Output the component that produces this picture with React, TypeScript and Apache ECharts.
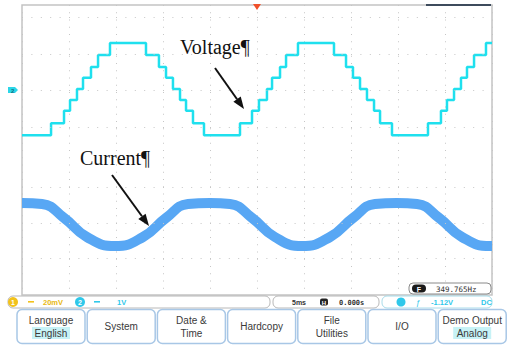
import React, { useEffect, useRef } from "react";
import * as echarts from "echarts";

// time in ms (5 ms/div), levels in screen divisions (0 = centre row)
const voltageTimes = [0, 3.09, 4.47, 5.11, 5.85, 6.49, 7.34, 8.09, 9.36, 13.19, 14.57, 15.32, 16.06, 16.81, 17.45, 18.19, 19.36, 23.19, 24.47, 25.21, 26.06, 26.6, 27.45, 28.09, 29.36, 33.19, 34.47, 35.21, 35.96, 36.7, 37.45, 38.09, 39.36, 43.19, 44.57, 45.21, 45.96, 46.7, 47.34, 48.09, 49.36, 50];
const voltageLevels = [0.41, 0.74, 1.08, 1.38, 1.68, 1.99, 2.29, 2.62, 2.95, 2.62, 2.29, 1.99, 1.68, 1.38, 1.08, 0.74, 0.41, 0.74, 1.08, 1.38, 1.68, 1.99, 2.29, 2.62, 2.95, 2.62, 2.29, 1.99, 1.68, 1.38, 1.08, 0.74, 0.41, 0.74, 1.08, 1.38, 1.68, 1.99, 2.29, 2.62, 2.95, 2.95];

const currentTimes = [0, 2.13, 4.5, 6.9, 9.89, 12.87, 15.3, 17.66, 20.0, 22.13, 24.5, 26.9, 29.79, 32.77, 35.2, 37.55, 39.89, 42.02, 44.4, 46.8, 49.79, 50];
const currentLevels = [-1.46, -1.49, -1.88, -2.4, -2.65, -2.4, -1.88, -1.49, -1.46, -1.49, -1.88, -2.4, -2.65, -2.4, -1.88, -1.49, -1.46, -1.49, -1.88, -2.4, -2.65, -2.65];

// graticule rows (division values) as they appear in the screenshot
const graticuleRows = [3.66, 2.65, 1.66, 0.63, -1.02, -2.01, -2.98];

const channelLabels = ["20mV", "1V"];
const timebaseLabels = ["5ms", "0.000s"];
const triggerLabels = ["-1.12V", "DC"];
const frequencyLabel = "349.765Hz";
const annotationLabels = ["Voltage¶", "Current¶"];
const menuButtons: string[][] = [
  ["Language", "English"],
  ["System"],
  ["Date &", "Time"],
  ["Hardcopy"],
  ["File", "Utilities"],
  ["I/O"],
  ["Demo Output", "Analog"],
];

const SANS = "'Liberation Sans', Arial, sans-serif";
const SERIF = "'Liberation Serif', 'Times New Roman', serif";

function txt(text: string, x: number, y: number, size: number, fill: string, extra: any = {}) {
  return {
    type: "text",
    x,
    y,
    z: 20,
    style: {
      text,
      fill,
      font: `${extra.weight || "normal"} ${size}px ${extra.family || SANS}`,
      align: extra.align || "left",
      verticalAlign: "middle",
      textAlign: extra.align || "left",
      textVerticalAlign: "middle",
    },
    scaleX: extra.scaleX || 1,
  };
}

function arrow(x1: number, y1: number, x2: number, y2: number) {
  const dx = x2 - x1;
  const dy = y2 - y1;
  const len = Math.sqrt(dx * dx + dy * dy);
  const ux = dx / len;
  const uy = dy / len;
  const head = 12;
  const half = 4.5;
  const bx = x2 - ux * head;
  const by = y2 - uy * head;
  return [
    { type: "line", z: 10, shape: { x1, y1, x2: bx, y2: by }, style: { stroke: "#111", lineWidth: 2 } },
    {
      type: "polygon",
      z: 10,
      shape: { points: [[x2, y2], [bx - uy * half, by + ux * half], [bx + uy * half, by - ux * half]] },
      style: { fill: "#111" },
    },
  ];
}

function buildGraphics() {
  const g: any[] = [];
  // top-right memory bar and trigger marker
  g.push({ type: "line", z: 10, shape: { x1: 426, y1: 5, x2: 491, y2: 5 }, style: { stroke: "#3d4b5c", lineWidth: 2 } });
  g.push({ type: "polygon", z: 10, shape: { points: [[253, 4], [261, 4], [257, 10]] }, style: { fill: "#f0502a" } });
  // channel 2 ground marker
  g.push({ type: "polygon", z: 10, shape: { points: [[8, 87], [15, 87], [18, 90], [15, 93], [8, 93]] }, style: { fill: "#2cd6e8" } });
  g.push(txt("2", 11, 90.5, 6, "#0d6f80", { weight: "bold" }));

  // annotations
  g.push(txt(annotationLabels[0], 180, 47, 20, "#111", { family: SERIF }));
  g.push(...arrow(215, 68, 244, 109));
  g.push(txt(annotationLabels[1], 80, 158, 20, "#111", { family: SERIF }));
  g.push(...arrow(112, 175, 149, 226));

  // frequency box
  g.push({ type: "rect", z: 10, shape: { x: 409, y: 283, width: 82, height: 11, r: 4 }, style: { fill: "#fff", stroke: "#8a8a8a", lineWidth: 1 } });
  g.push({ type: "rect", z: 11, shape: { x: 412, y: 284.5, width: 14, height: 8, r: 4 }, style: { fill: "#1a1a1a" } });
  g.push(txt("F", 419, 289, 7, "#fff", { align: "center", weight: "bold" }));
  g.push(txt(frequencyLabel, 436, 289, 7.5, "#333", { family: "'DejaVu Sans Mono', monospace" }));

  // status bar
  g.push({ type: "rect", z: 10, shape: { x: 8, y: 296, width: 262, height: 12, r: 5 }, style: { fill: "#fff", stroke: "#b8b8b8", lineWidth: 1 } });
  g.push({ type: "rect", z: 10, shape: { x: 273, y: 296, width: 106, height: 12, r: 5 }, style: { fill: "#fff", stroke: "#b8b8b8", lineWidth: 1 } });
  g.push({ type: "rect", z: 10, shape: { x: 382, y: 296, width: 110, height: 12, r: 5 }, style: { fill: "#fff", stroke: "#a8dcea", lineWidth: 1 } });
  g.push({ type: "circle", z: 11, shape: { cx: 13, cy: 302, r: 5 }, style: { fill: "#f2c21b" } });
  g.push(txt("1", 13, 302.5, 7, "#fff", { align: "center", weight: "bold" }));
  g.push({ type: "rect", z: 11, shape: { x: 28, y: 301, width: 6, height: 1.6 }, style: { fill: "#f2c21b" } });
  g.push(txt(channelLabels[0], 43, 302.5, 7.5, "#e8b810", { weight: "bold" }));
  g.push({ type: "circle", z: 11, shape: { cx: 80, cy: 302, r: 5 }, style: { fill: "#2fc8ea" } });
  g.push(txt("2", 80, 302.5, 7, "#fff", { align: "center", weight: "bold" }));
  g.push({ type: "rect", z: 11, shape: { x: 94, y: 301, width: 6, height: 1.6 }, style: { fill: "#2fc8ea" } });
  g.push(txt(channelLabels[1], 117, 302.5, 7.5, "#2fc8ea", { weight: "bold" }));
  g.push(txt(timebaseLabels[0], 292, 302.5, 7, "#333", { weight: "bold" }));
  g.push({ type: "rect", z: 11, shape: { x: 320, y: 298.5, width: 8, height: 7, r: 2 }, style: { fill: "#222" } });
  g.push(txt("H", 324, 302.5, 6, "#fff", { align: "center", weight: "bold" }));
  g.push(txt(timebaseLabels[1], 339, 302.5, 7, "#333", { family: "'DejaVu Sans Mono', monospace", weight: "bold" }));
  g.push({ type: "circle", z: 11, shape: { cx: 401, cy: 302, r: 4.5 }, style: { fill: "#2fc8ea" } });
  g.push(txt("ƒ", 416, 302.5, 8, "#2fc8ea"));
  g.push(txt(triggerLabels[0], 431, 302.5, 7.5, "#2fc8ea", { weight: "bold" }));
  g.push(txt(triggerLabels[1], 481, 302.5, 7.5, "#2fc8ea", { weight: "bold" }));

  // menu buttons
  const pitch = 70.2;
  menuButtons.forEach((lines, i) => {
    const x = 17 + i * pitch;
    const cx = x + 34;
    g.push({ type: "rect", z: 10, shape: { x, y: 309.5, width: 68, height: 34, r: 5 }, style: { fill: "#fff", stroke: "#a8c7e6", lineWidth: 1.5 } });
    if (lines.length === 1) {
      g.push(txt(lines[0], cx, 326.5, 10, "#3a3a3a", { align: "center" }));
    } else {
      const highlight = i === 0 || i === 6;
      if (highlight) {
        g.push({ type: "rect", z: 11, shape: { x: cx - 19, y: 327, width: 38, height: 12 }, style: { fill: "#c7f2f6" } });
      }
      g.push(txt(lines[0], cx, 320, 10, "#3a3a3a", { align: "center" }));
      g.push(txt(lines[1], cx, 333, 10, "#3a3a3a", { align: "center" }));
    }
  });
  return g;
}

export default function App() {
  const ref = useRef<HTMLDivElement>(null);
  useEffect(() => {
    if (!ref.current) return;
    const chart = echarts.init(ref.current, undefined, { renderer: "svg" });
    const voltage = voltageTimes.map((t, i) => [t, voltageLevels[i]]);
    const current = currentTimes.map((t, i) => [t, currentLevels[i]]);
    chart.setOption({
      animation: false,
      backgroundColor: "#fff",
      grid: {
        left: 22,
        right: 16,
        top: 5,
        bottom: 52,
        show: true,
        borderColor: "#c4c4c4",
        borderWidth: 1.5,
        backgroundColor: "transparent",
      },
      xAxis: {
        type: "value",
        min: 0,
        max: 50,
        interval: 5,
        axisLabel: { show: false },
        axisLine: { show: false },
        axisTick: { show: false },
        splitLine: { show: true, lineStyle: { color: "#c6c6c6", width: 1, type: [1, 6.25] } },
      },
      yAxis: {
        type: "value",
        min: -4,
        max: 4,
        interval: 1,
        axisLabel: { show: false },
        axisLine: { show: false },
        axisTick: { show: false },
        splitLine: { show: false },
      },
      series: [
        {
          type: "line",
          data: [],
          z: 1,
          silent: true,
          markLine: {
            silent: true,
            symbol: ["none", "none"],
            label: { show: false },
            lineStyle: { color: "#c6c6c6", width: 1, type: [1, 8.4] },
            data: graticuleRows.map((v) => ({ yAxis: v })),
          },
        },
        {
          type: "line",
          name: "Current",
          data: current,
          smooth: 0.5,
          showSymbol: false,
          z: 2,
          lineStyle: { color: "#58a7f4", width: 10, cap: "butt", join: "round" },
        },
        {
          type: "line",
          name: "Voltage",
          data: voltage,
          step: "end",
          showSymbol: false,
          z: 3,
          lineStyle: { color: "#1fe0ee", width: 2.5 },
        },
      ],
      graphic: buildGraphics(),
    });
    return () => chart.dispose();
  }, []);
  return <div ref={ref} style={{ width: 508, height: 347, position: "absolute", left: 0, top: 0 }} />;
}
